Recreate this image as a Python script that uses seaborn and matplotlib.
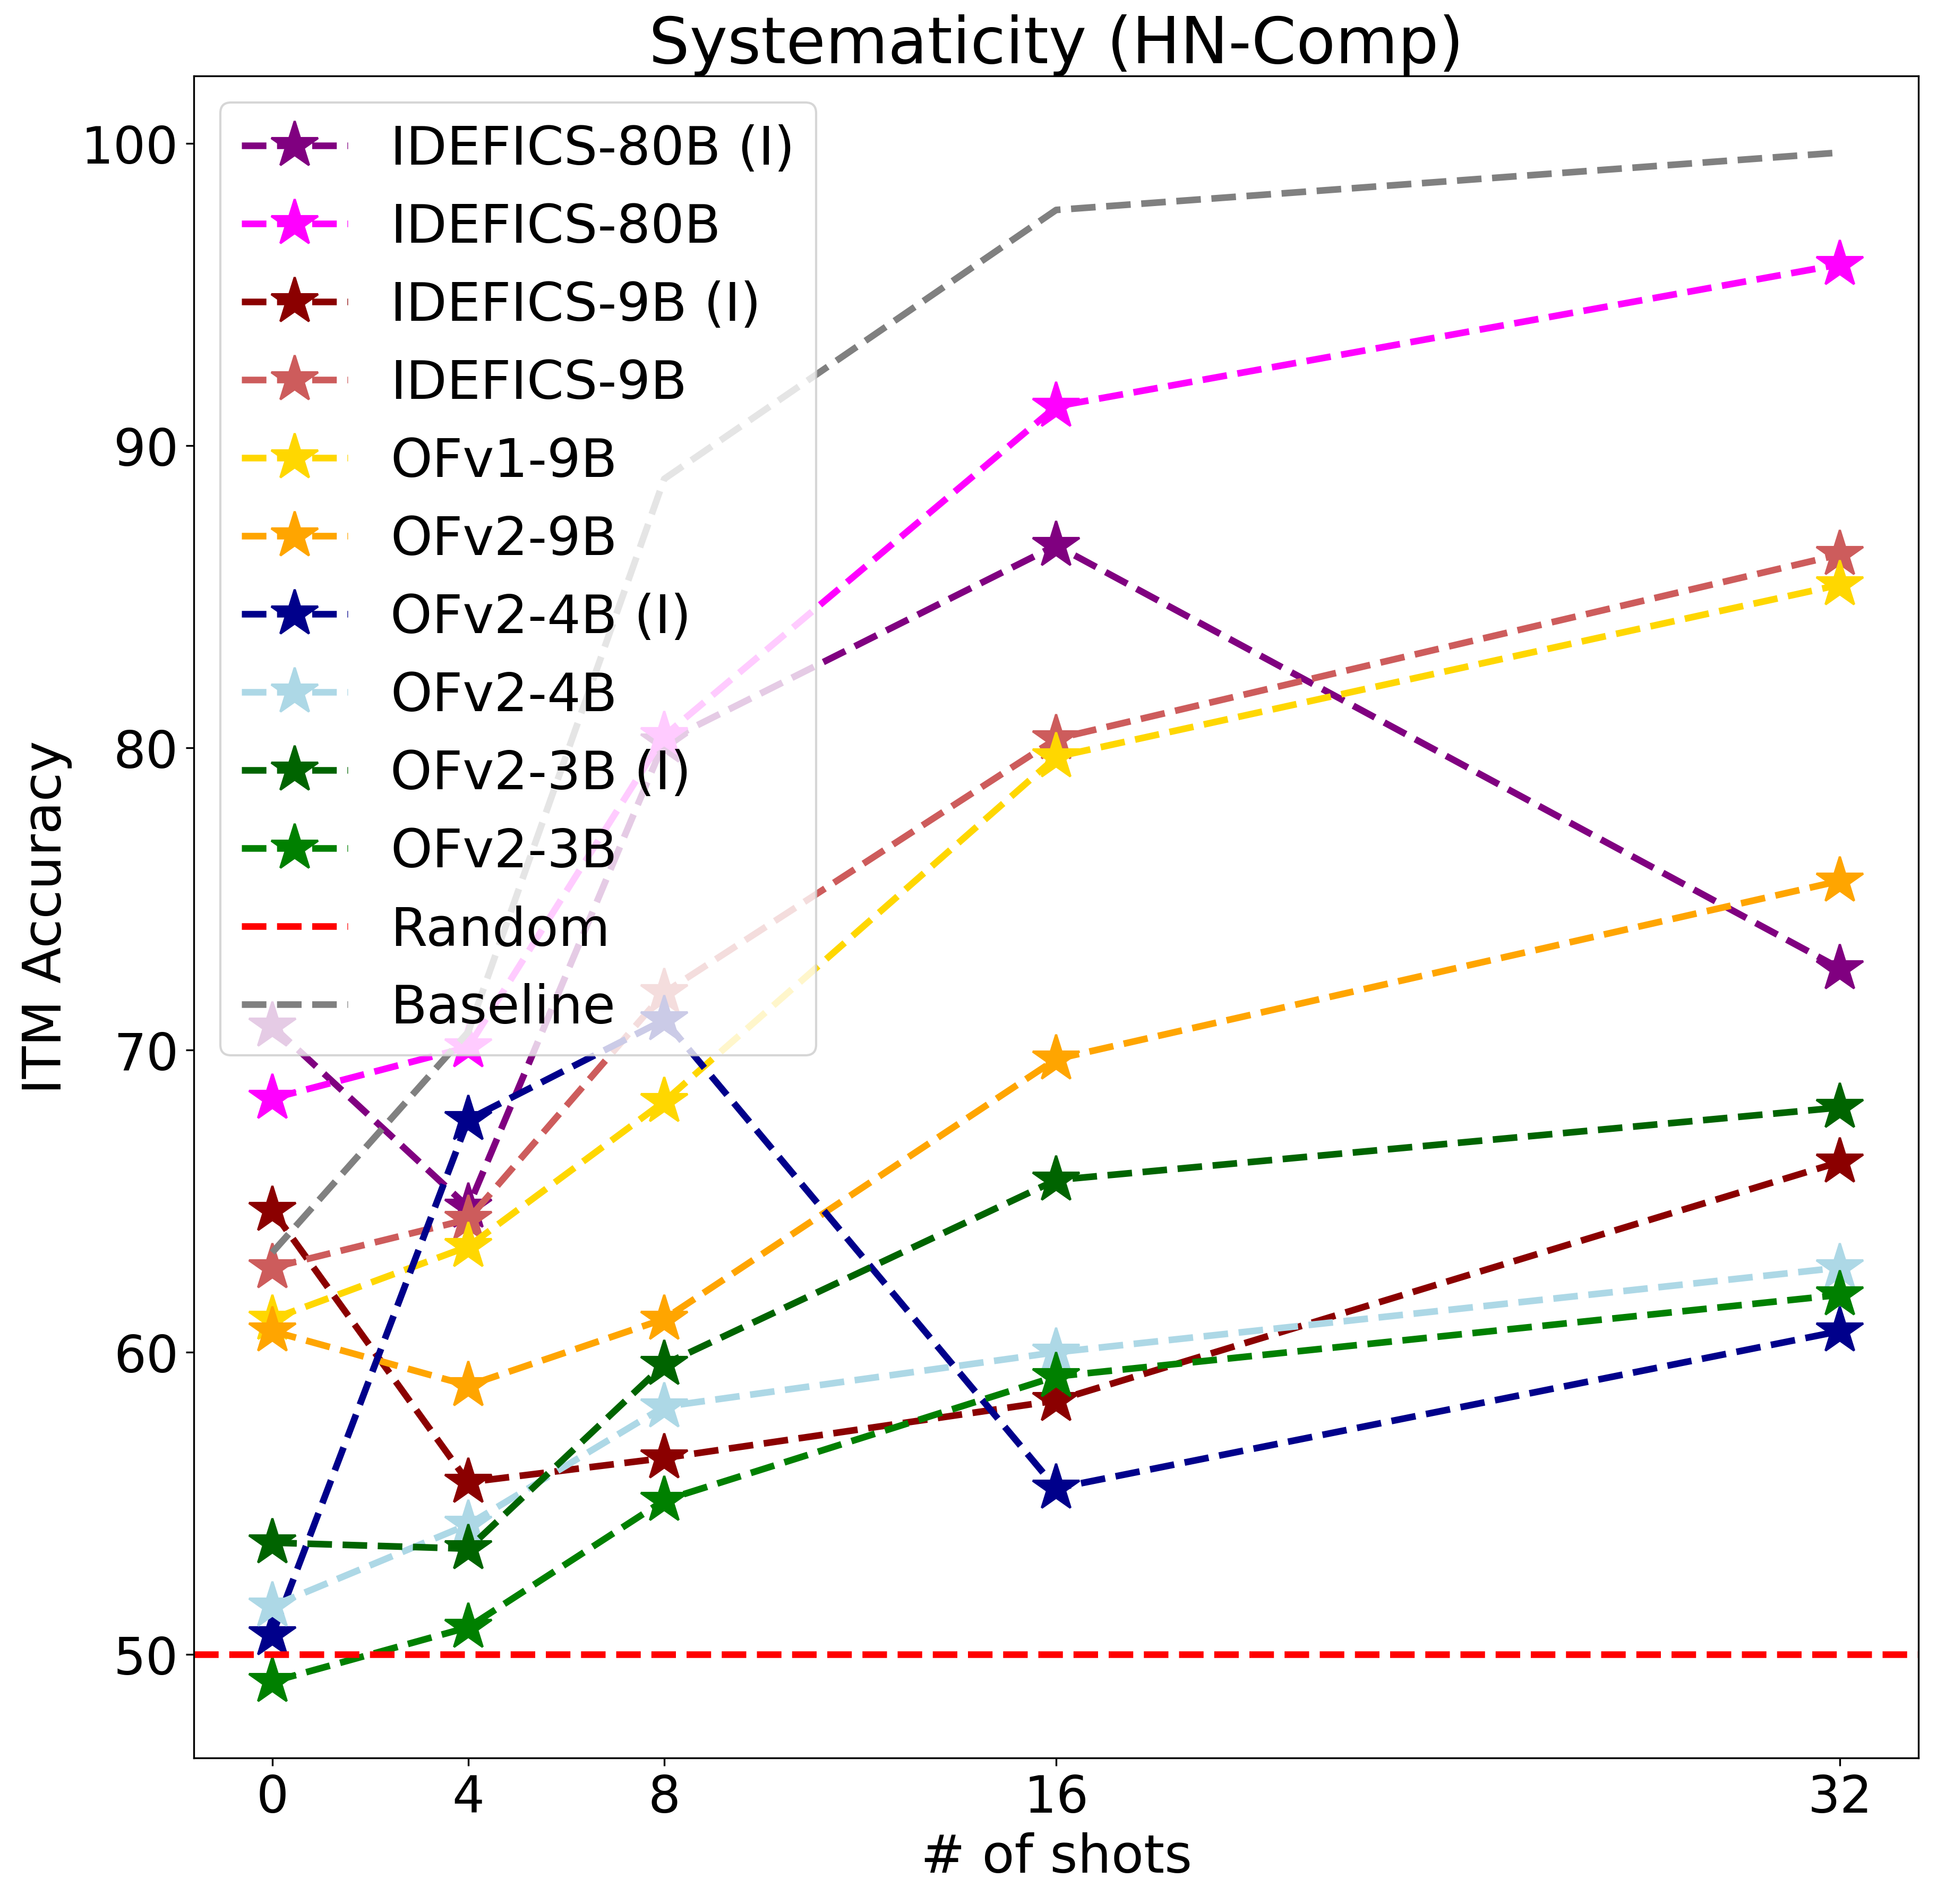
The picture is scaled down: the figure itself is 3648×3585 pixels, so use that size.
import matplotlib
matplotlib.use("Agg")
import matplotlib.pyplot as plt
import seaborn as sns

# x positions (number of in-context shots)
shots = [0, 4, 8, 16, 32]

# ITM accuracy per model
idefics80_i = [70.8, 64.8, 80.2, 86.7, 72.7]
idefics80 = [68.4, 70.1, 80.4, 91.3, 96.0]
idefics9_i = [64.7, 55.7, 56.5, 58.4, 66.3]
idefics9 = [62.8, 64.4, 71.9, 80.3, 86.4]
ofv1_9b = [61.1, 63.5, 68.3, 79.7, 85.4]
ofv2_9b = [60.7, 58.9, 61.1, 69.7, 75.6]
ofv2_4b_i = [50.65, 67.7, 71.0, 55.5, 60.7]
ofv2_4b = [51.6, 54.3, 58.2, 60.0, 62.8]
ofv2_3b_i = [53.7, 53.5, 59.6, 65.7, 68.1]
ofv2_3b = [49.1, 50.9, 55.1, 59.2, 61.9]
baseline = [63.3, 70.6, 88.9, 97.8, 99.7]
random_level = 50

models = ["IDEFICS-80B (I)", "IDEFICS-80B", "IDEFICS-9B (I)", "IDEFICS-9B",
          "OFv1-9B", "OFv2-9B", "OFv2-4B (I)", "OFv2-4B", "OFv2-3B (I)", "OFv2-3B"]
scores = [idefics80_i, idefics80, idefics9_i, idefics9, ofv1_9b,
          ofv2_9b, ofv2_4b_i, ofv2_4b, ofv2_3b_i, ofv2_3b]
colors = ["purple", "magenta", "darkred", "indianred", "gold",
          "orange", "darkblue", "lightblue", "darkgreen", "green"]

fig, ax = plt.subplots(figsize=(12.16, 11.953), dpi=300)

for name, vals, c in zip(models, scores, colors):
    sns.lineplot(x=shots, y=vals, ax=ax, color=c, label=name, marker="*",
                 linestyle="--", linewidth=3, markersize=22,
                 markeredgecolor=c, markeredgewidth=1)

ax.axhline(random_level, color="red", linestyle="--", linewidth=3, label="Random")
sns.lineplot(x=shots, y=baseline, ax=ax, color="gray", linestyle="--",
             linewidth=3, label="Baseline")

ax.set_xticks(shots)
ax.tick_params(labelsize=23)
ax.set_xlabel("# of shots", fontsize=24)
ax.set_ylabel("ITM Accuracy", fontsize=24)
ax.set_title("Systematicity (HN-Comp)", fontsize=29)
ax.legend(loc="upper left", fontsize=24)

plt.subplots_adjust(left=0.1001, right=0.9904, top=0.9598, bottom=0.0766)
plt.savefig("out.png", dpi=300)
